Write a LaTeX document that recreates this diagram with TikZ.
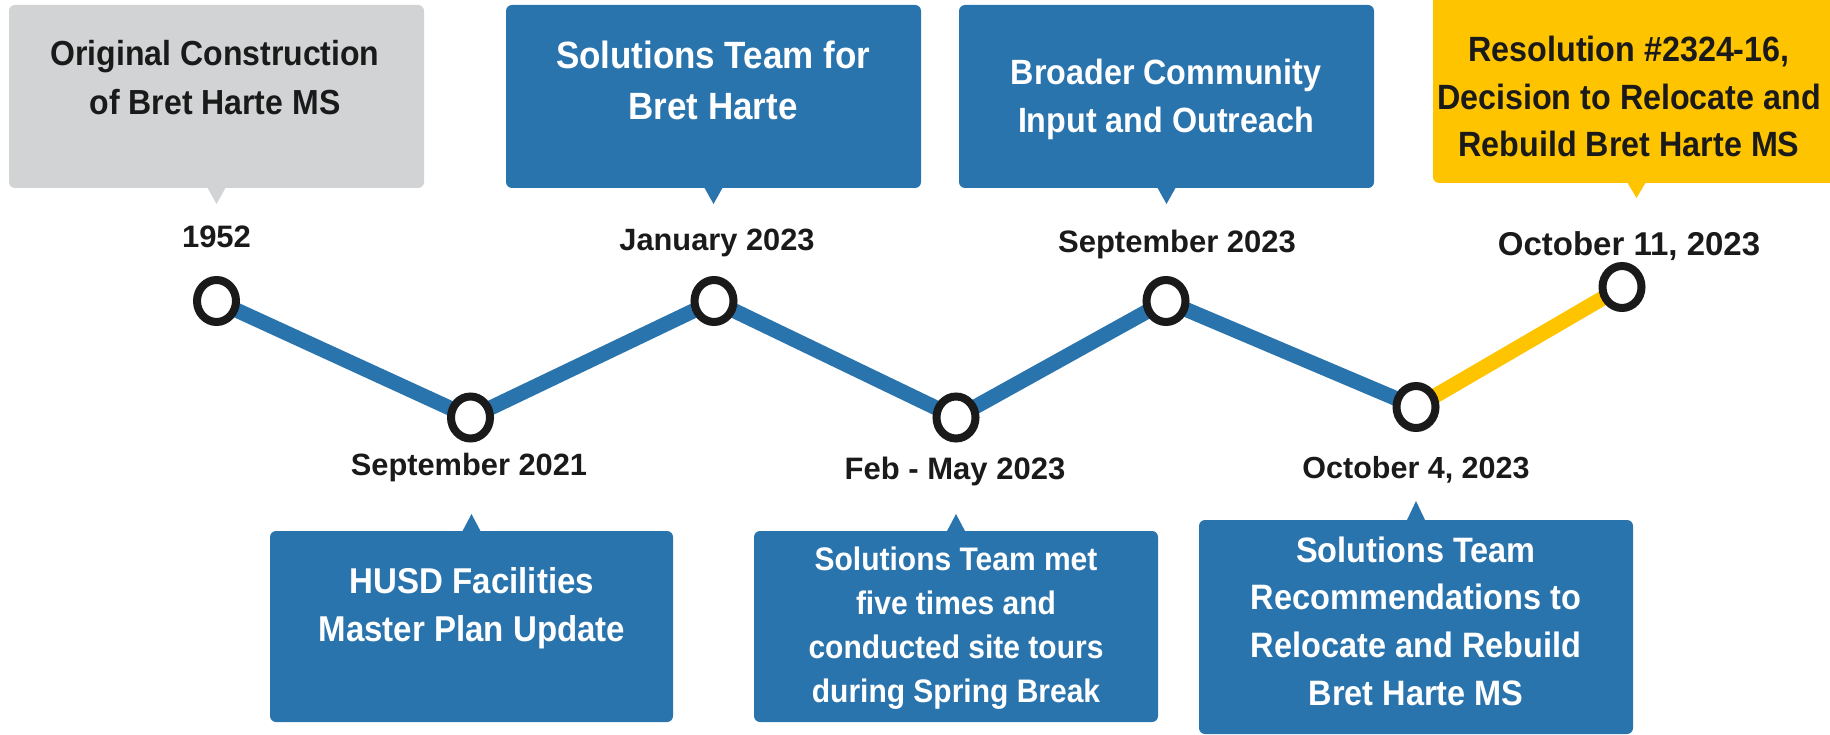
\documentclass[tikz,border=0pt]{standalone}
\usepackage{fontspec}
\setmainfont{Liberation Sans}
\newfontfamily\boxfont{Liberation Sans}[FakeStretch=0.92]
\usetikzlibrary{backgrounds,shapes.geometric}
\definecolor{hblue}{RGB}{42,116,174}
\definecolor{hgrey}{RGB}{209,211,212}
\definecolor{hyellow}{RGB}{255,196,0}
\definecolor{hdark}{RGB}{26,26,26}
\newcommand{\mlines}[1]{\begin{tabular}[t]{@{}c@{}}#1\end{tabular}}
\begin{document}
\begin{tikzpicture}[x=1pt,y=-1pt,
  boxnode/.style={rectangle, rounded corners=6pt, inner sep=0pt, outer sep=0pt},
  ring/.style={ellipse, draw=hdark, line width=8pt, fill=white, minimum width=39pt, minimum height=42pt, inner sep=0pt, outer sep=0pt},
  datelbl/.style={anchor=base, text=hdark, inner sep=0pt},
  boxtext/.style={anchor=base, inner sep=0pt},
  track/.style={line width=15pt, line cap=butt, line join=round}
]
\useasboundingbox (0,0) rectangle (1830,735);
\clip (0,0) rectangle (1830,735);

% ---- boxes ----
\node[boxnode, fill=hgrey, minimum width=415pt, minimum height=183pt] (b1) at (216.5,96.5) {};
\node[boxnode, fill=hblue, minimum width=415pt, minimum height=183pt] (b2) at (713.5,96.5) {};
\node[boxnode, fill=hblue, minimum width=415pt, minimum height=183pt] (b3) at (1166.5,96.5) {};
\node[boxnode, fill=hyellow, minimum width=407pt, minimum height=193pt] (b4) at (1636.5,86.5) {};
\node[boxnode, fill=hblue, minimum width=403pt, minimum height=191pt] (b5) at (471.5,626.5) {};
\node[boxnode, fill=hblue, minimum width=404pt, minimum height=191pt] (b6) at (956,626.5) {};
\node[boxnode, fill=hblue, minimum width=434pt, minimum height=214pt] (b7) at (1416,627) {};

% ---- tails ----
\fill[hgrey] (b1.south) ++(-9.5,-1) -- ++(9.5,17) -- ++(9.5,-17) -- cycle;
\fill[hblue] (b2.south) ++(-9.5,-1) -- ++(9.5,17) -- ++(9.5,-17) -- cycle;
\fill[hblue] (b3.south) ++(-9.5,-1) -- ++(9.5,17) -- ++(9.5,-17) -- cycle;
\fill[hyellow] (b4.south) ++(-9.5,-1) -- ++(9.5,16) -- ++(9.5,-16) -- cycle;
\fill[hblue] (b5.north) ++(-9.5,1) -- ++(9.5,-18) -- ++(9.5,18) -- cycle;
\fill[hblue] (b6.north) ++(-9.5,1) -- ++(9.5,-18) -- ++(9.5,18) -- cycle;
\fill[hblue] (b7.north) ++(-9.5,1) -- ++(9.5,-20) -- ++(9.5,20) -- cycle;

% ---- box texts ----
\node[boxtext, text=hdark, font=\boxfont\bfseries\fontsize{34.8}{49}\selectfont] (t1) at (215,66)
  {\mlines{Original Construction\\of Bret Harte MS}};
\node[boxtext, text=white, font=\boxfont\bfseries\fontsize{38}{51}\selectfont] (t2) at (713,69)
  {\mlines{Solutions Team for\\Bret Harte}};
\node[boxtext, text=white, font=\boxfont\bfseries\fontsize{35.1}{48}\selectfont] (t3) at (1166,85)
  {\mlines{Broader Community\\Input and Outreach}};
\node[boxtext, text=hdark, font=\boxfont\bfseries\fontsize{35.1}{47.5}\selectfont] (t4) at (1629,62)
  {\mlines{Resolution \#2324-16,\\Decision to Relocate and\\Rebuild Bret Harte MS}};
\node[boxtext, text=white, font=\boxfont\bfseries\fontsize{35.9}{48}\selectfont] (t5) at (472,593)
  {\mlines{HUSD Facilities\\Master Plan Update}};
\node[boxtext, text=white, font=\boxfont\bfseries\fontsize{32.6}{44.3}\selectfont] (t6) at (956,570)
  {\mlines{Solutions Team met\\five times and\\conducted site tours\\during Spring Break}};
\node[boxtext, text=white, font=\boxfont\bfseries\fontsize{35.3}{47.7}\selectfont] (t7) at (1416,562)
  {\mlines{Solutions Team\\Recommendations to\\Relocate and Rebuild\\Bret Harte MS}};

% ---- timeline rings ----
\node[ring] (c1) at (216.5,301) {};
\node[ring] (c2) at (470.5,417.5) {};
\node[ring] (c3) at (714,301) {};
\node[ring] (c4) at (956,417.5) {};
\node[ring] (c5) at (1166,301) {};
\node[ring] (c6) at (1416,407) {};
\node[ring] (c7) at (1622,287) {};

\begin{scope}[on background layer]
\draw[track, hblue] (c1.center) -- (c2.center) -- (c3.center) -- (c4.center) -- (c5.center) -- (c6.center);
\draw[track, hyellow] (c6.center) -- (c7.center);
\end{scope}

% ---- dates ----
\node[datelbl, font=\bfseries\fontsize{31}{37}\selectfont] (d1) at (216.5,248) {1952};
\node[datelbl, font=\bfseries\fontsize{30.8}{37}\selectfont] (d2) at (469,475) {September 2021};
\node[datelbl, font=\bfseries\fontsize{30.8}{37}\selectfont] (d3) at (717,250.5) {January 2023};
\node[datelbl, font=\bfseries\fontsize{31}{37}\selectfont] (d4) at (955,479) {Feb - May 2023};
\node[datelbl, font=\bfseries\fontsize{31}{37}\selectfont] (d5) at (1177,253) {September 2023};
\node[datelbl, font=\bfseries\fontsize{30.5}{37}\selectfont] (d6) at (1416,478) {October 4, 2023};
\node[datelbl, font=\bfseries\fontsize{33}{40}\selectfont] (d7) at (1629,255) {October 11, 2023};
\end{tikzpicture}
\end{document}
